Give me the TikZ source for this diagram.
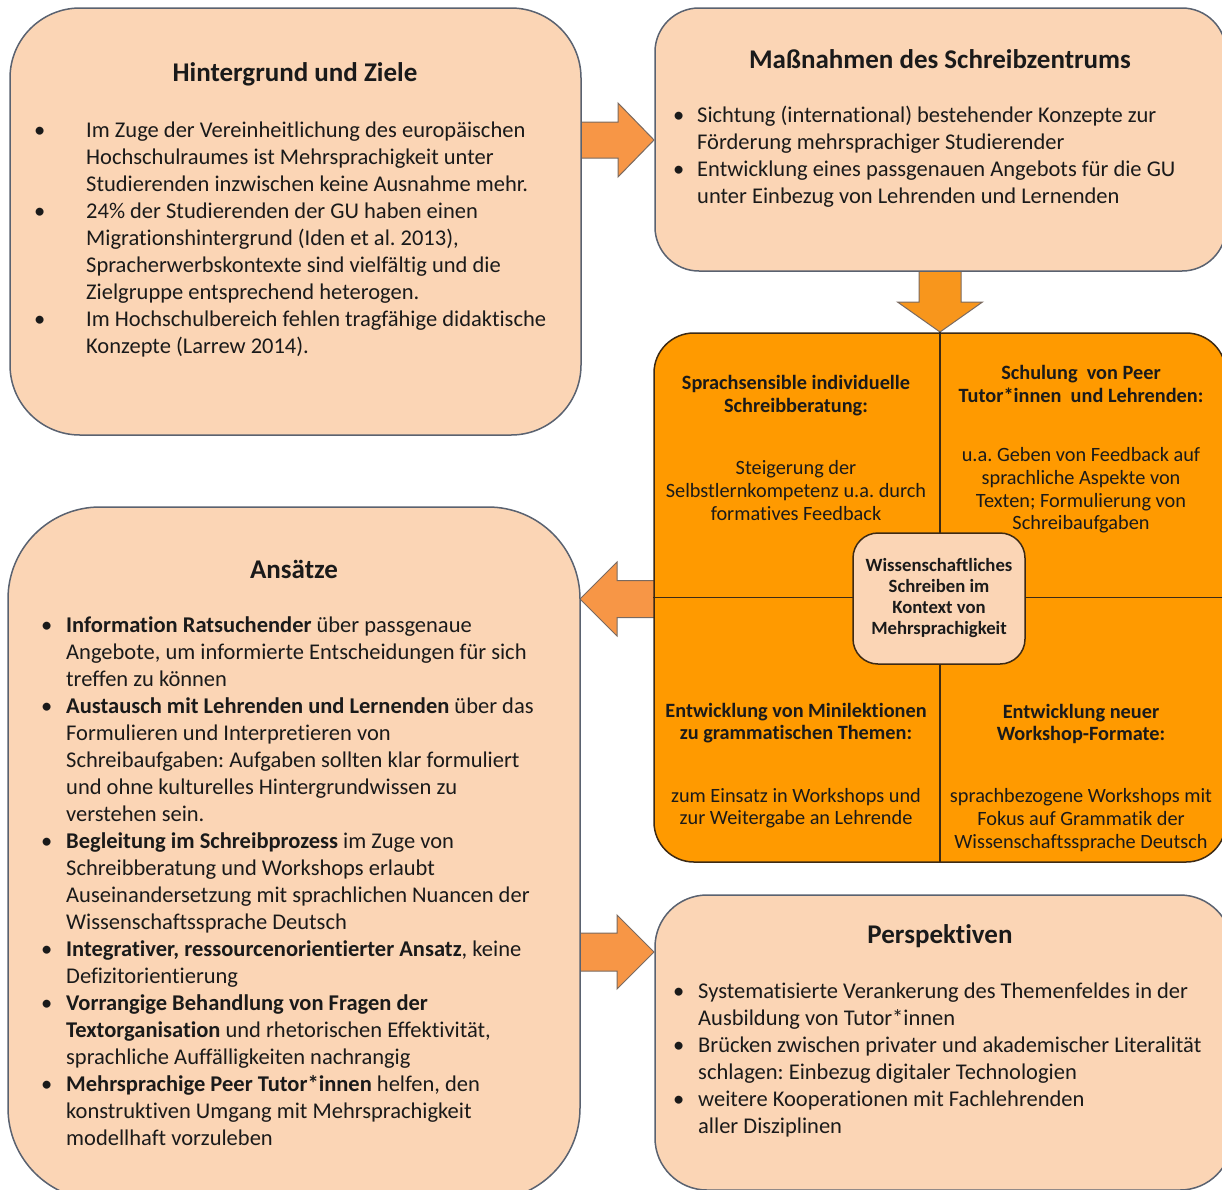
\documentclass[tikz,border=0pt]{standalone}
\usepackage{fontspec}
\setmainfont{Carlito}[Ligatures=NoCommon]
\frenchspacing
\definecolor{peach}{HTML}{FBD5B5}
\definecolor{boxline}{HTML}{5A6270}
\definecolor{hubfill}{HTML}{FF9A00}
\definecolor{hubline}{HTML}{3D2A14}
\definecolor{arroworange}{HTML}{F79646}
\definecolor{downorange}{HTML}{F8961C}
\definecolor{arrowline}{HTML}{7A6A60}
\definecolor{ink}{HTML}{1A1A1A}
\tikzset{
  panel/.style={draw=boxline, line width=1.5pt, fill=peach},
  listtext/.style={anchor=west, inner sep=0pt, text=ink, font=\fontsize{22.5}{27}\selectfont},
  heading/.style={inner sep=0pt, text=ink, font=\bfseries\fontsize{27}{32}\selectfont},
  quadhead/.style={inner sep=0pt, align=center, text=ink, font=\bfseries\fontsize{20.3}{22.8}\selectfont},
  quadbody/.style={inner sep=0pt, align=center, text=ink, font=\fontsize{20.3}{22.6}\selectfont},
  flowarrow/.style={draw=arrowline, line width=1pt, fill=arroworange},
}
\begin{document}
\begin{tikzpicture}[x=1pt,y=-1pt]
\useasboundingbox (0,0) rectangle (1222,1189);
\clip (0,0) rectangle (1222,1189);
\fill[white] (0,0) rectangle (1222,1189);

% block arrows (drawn first so the panels cover their tails)
\draw[flowarrow] (572,122) -- (618,122) -- (618,103) -- (654,140) -- (618,177) -- (618,158) -- (572,158) -- cycle;
\draw[flowarrow, fill=downorange] (919,262) -- (961,262) -- (961,302) -- (982.5,302) -- (940,332) -- (897.5,302) -- (919,302) -- cycle;
\draw[flowarrow] (662,580.5) -- (617,580.5) -- (617,562) -- (580,599) -- (617,636) -- (617,617.5) -- (662,617.5) -- cycle;
\draw[flowarrow] (572,933) -- (617,933) -- (617,915) -- (654,952) -- (617,989) -- (617,971) -- (572,971) -- cycle;

% panels
\node[panel, minimum width=571pt, minimum height=427pt, rounded corners=70pt] (bg) at (295.5,221.5) {};
\node[panel, minimum width=571pt, minimum height=263pt, rounded corners=44pt] (mass) at (940.5,139.5) {};
\node[panel, minimum width=572pt, minimum height=693pt, rounded corners=92pt] (ans) at (294,853.5) {};
\node[panel, minimum width=577pt, minimum height=295pt, rounded corners=52pt] (persp) at (943.5,1042.5) {};

% central four-field panel
\node[draw=hubline, line width=1.5pt, fill=hubfill, minimum width=572pt, minimum height=529pt, rounded corners=40pt] (hub) at (940,597.5) {};
\draw[hubline, line width=1.5pt] (hub.north) -- (hub.south);
\draw[hubline, line width=1.5pt] (hub.west) -- (hub.east);

% headings
\node[heading] (bgT) at (295,74.5) {Hintergrund und Ziele};
\node[heading] (massT) at (940,59.5) {Maßnahmen des Schreibzentrums};
\node[heading] (ansT) at (294,569.5) {Ansätze};
\node[heading] (perspT) at (940,936.5) {Perspektiven};

% Hintergrund und Ziele
\node[listtext] (bgL) at (34,240.5) {\begin{tabular}{@{}p{52pt}@{}l@{}}
\textbullet & Im Zuge der Vereinheitlichung des europäischen\\
 & Hochschulraumes ist Mehrsprachigkeit unter\\
 & Studierenden inzwischen keine Ausnahme mehr.\\
\textbullet & 24\% der Studierenden der GU haben einen\\
 & Migrationshintergrund (Iden et al. 2013),\\
 & Spracherwerbskontexte sind vielfältig und die\\
 & Zielgruppe entsprechend heterogen.\\
\textbullet & Im Hochschulbereich fehlen tragfähige didaktische\\
 & Konzepte (Larrew 2014).
\end{tabular}};

% Maßnahmen des Schreibzentrums
\node[listtext] (massL) at (673,158) {\begin{tabular}{@{}p{24pt}@{}l@{}}
\textbullet & Sichtung (international) bestehender Konzepte zur\\
 & Förderung mehrsprachiger Studierender\\
\textbullet & Entwicklung eines passgenauen Angebots für die GU\\
 & unter Einbezug von Lehrenden und Lernenden
\end{tabular}};

% Ansätze
\node[listtext] (ansL) at (41,883.5) {\begin{tabular}{@{}p{25pt}@{}l@{}}
\textbullet & \textbf{Information Ratsuchender} über passgenaue\\
 & Angebote, um informierte Entscheidungen für sich\\
 & treffen zu können\\
\textbullet & \textbf{Austausch mit Lehrenden und Lernenden} über das\\
 & Formulieren und Interpretieren von\\
 & Schreibaufgaben: Aufgaben sollten klar formuliert\\
 & und ohne kulturelles Hintergrundwissen zu\\
 & verstehen sein.\\
\textbullet & \textbf{Begleitung im Schreibprozess} im Zuge von\\
 & Schreibberatung und Workshops erlaubt\\
 & Auseinandersetzung mit sprachlichen Nuancen der\\
 & Wissenschaftssprache Deutsch\\
\textbullet & \textbf{Integrativer, ressourcenorientierter Ansatz}, keine\\
 & Defizitorientierung\\
\textbullet & \textbf{Vorrangige Behandlung von Fragen der}\\
 & \textbf{Textorganisation} und rhetorischen Effektivität,\\
 & sprachliche Auffälligkeiten nachrangig\\
\textbullet & \textbf{Mehrsprachige Peer Tutor*innen} helfen, den\\
 & konstruktiven Umgang mit Mehrsprachigkeit\\
 & modellhaft vorzuleben
\end{tabular}};

% Perspektiven
\node[listtext] (perspL) at (673,1061) {\begin{tabular}{@{}p{25pt}@{}l@{}}
\textbullet & Systematisierte Verankerung des Themenfeldes in der\\
 & Ausbildung von Tutor*innen\\
\textbullet & Brücken zwischen privater und akademischer Literalität\\
 & schlagen: Einbezug digitaler Technologien\\
\textbullet & weitere Kooperationen mit Fachlehrenden\\
 & aller Disziplinen
\end{tabular}};

% four fields
\node[quadhead] (q1h) at (796,395.5) {Sprachsensible individuelle\\Schreibberatung:};
\node[quadbody] (q1b) at (796,490.5) {Steigerung der\\Selbstlernkompetenz u.a. durch\\formatives Feedback};
\node[quadhead] (q2h) at (1081,384) {Schulung~ von Peer\\Tutor*innen~ und Lehrenden:};
\node[quadbody] (q2b) at (1081,490.5) {u.a. Geben von Feedback auf\\sprachliche Aspekte von\\Texten; Formulierung von\\Schreibaufgaben};
\node[quadhead] (q3h) at (796,723) {Entwicklung von Minilektionen\\zu grammatischen Themen:};
\node[quadbody] (q3b) at (796,808) {zum Einsatz in Workshops und\\zur Weitergabe an Lehrende};
\node[quadhead] (q4h) at (1081,724) {Entwicklung neuer\\Workshop-Formate:};
\node[quadbody] (q4b) at (1081,820) {sprachbezogene Workshops mit\\Fokus auf Grammatik der\\Wissenschaftssprache Deutsch};

% centre label
\node[draw=hubline, line width=1.5pt, fill=peach, minimum width=172pt, minimum height=131pt, rounded corners=25pt, align=center, text=ink, font=\bfseries\fontsize{18.7}{21}\selectfont] (core) at (939,598.5) {Wissenschaftliches\\Schreiben im\\Kontext von\\Mehrsprachigkeit};
\end{tikzpicture}
\end{document}
